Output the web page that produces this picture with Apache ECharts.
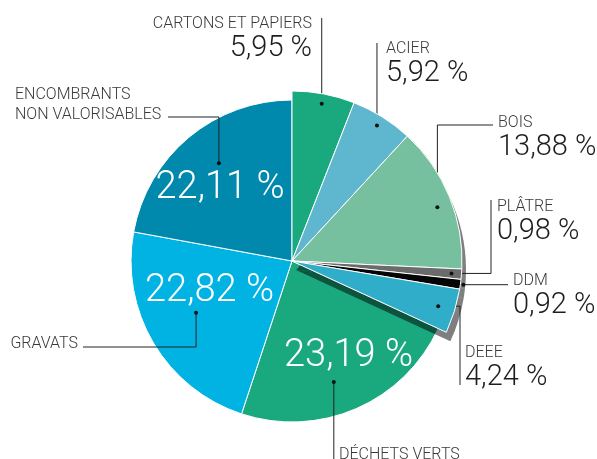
<!DOCTYPE html>
<html>
<head>
<meta charset="utf-8">
<script src="https://cdn.jsdelivr.net/npm/echarts@6/dist/echarts.min.js"></script>
<style>
    html, body { margin: 0; padding: 0; background: #fff; }
    #chart { width: 597px; height: 459px; }
</style>
</head>
<body>
<div id="chart"></div>
<script>
// répartition des déchets (% du tonnage)
var categories = ['CARTONS ET PAPIERS', 'ACIER', 'BOIS', 'PLÂTRE', 'DDM', 'DEEE',
    'DÉCHETS VERTS', 'GRAVATS', 'ENCOMBRANTS\nNON VALORISABLES'];
var shares = [5.95, 5.92, 13.88, 0.98, 0.92, 4.24, 23.19, 22.82, 22.11];

// style
var colors = ['#1aa97f', '#5fb7cf', '#76c0a0', '#6b6b6b', '#050505', '#30adc8',
    '#1aa97f', '#00b3e3', '#0089ad'];
var bigOnes = [6, 7, 8];          // grosses parts : valeur écrite dedans
var shadowed = [2, 3, 4, 5];      // parts avec ombre portée
var CX = 292, CY = 261, R_SMALL = 170, R_BIG = 161;
var FONT = 'Roboto';

// position des étiquettes : point (décalage d'angle, rayon), tracé du trait, boîte de texte
var leaders = [
    { shift: 0,   r: 160, path: 'v',  y: 18,          lx: 312, ly: 14,    align: 'right' },
    { shift: 0,   r: 160, path: 'v',  y: 43,          lx: 386, ly: 39,    align: 'left' },
    { shift: 2,   r: 155, path: 'vh', y: 125, x: 493, lx: 498, ly: 112.5, align: 'left' },
    { shift: 0,   r: 160, path: 'hv', y: 200, x: 491, lx: 497, ly: 197,   align: 'left' },
    { shift: 0,   r: 173, path: 'h',          x: 508, lx: 513, ly: 270.5, align: 'left' },
    { shift: 0,   r: 153, path: 'hv', y: 385, x: 460, lx: 465, ly: 343,   align: 'left' },
    { shift: 4.4, r: 128, path: 'v',  y: 470,         lx: 339, ly: 444.5, align: 'left' },
    { shift: 2.3, r: 109, path: 'vh', y: 347, x: 83,  lx: 78,  ly: 334,   align: 'right' },
    { shift: 3,   r: 122, path: 'vh', y: 117, x: 168, lx: 15,  ly: 84.5,  align: 'left' }
];
var insidePos = { 6: [348.5, 356], 7: [209.5, 291], 8: [220, 188.5] };

function fmt(v) {
    return v.toFixed(2).replace('.', ',') + ' %';
}

var total = shares.reduce(function (a, b) { return a + b; }, 0);

function anchor(i) {
    var before = 0;
    for (var k = 0; k < i; k++) before += shares[k];
    var a = ((before + shares[i] / 2) / total * 360 + leaders[i].shift) * Math.PI / 180;
    return [CX + leaders[i].r * Math.sin(a), CY - leaders[i].r * Math.cos(a)];
}

function linePoints(i) {
    var L = leaders[i], p = anchor(i);
    if (L.path === 'v') return [p, [p[0], L.y], [p[0], L.y]];
    if (L.path === 'h') return [p, [L.x, p[1]], [L.x, p[1]]];
    if (L.path === 'vh') return [p, [p[0], L.y], [L.x, L.y]];
    return [p, [L.x, p[1]], [L.x, L.y]];
}

var hidden = { color: 'transparent', borderWidth: 0 };
var outerData = [], innerData = [], shadowData = [];
categories.forEach(function (name, i) {
    var big = bigOnes.indexOf(i) >= 0;
    var filled = { color: colors[i], borderColor: '#fff', borderWidth: 1 };
    outerData.push({ name: name, value: shares[i], itemStyle: big ? hidden : filled });
    innerData.push({
        name: name,
        value: shares[i],
        itemStyle: big ? filled : hidden,
        label: { show: big }
    });
    shadowData.push({
        name: name,
        value: shares[i],
        itemStyle: shadowed.indexOf(i) >= 0 ? {
            color: colors[i],
            borderWidth: 0,
            shadowColor: 'rgba(0,0,0,0.5)',
            shadowOffsetX: 4,
            shadowOffsetY: 9,
            shadowBlur: 0
        } : hidden
    });
});

var dots = categories.map(function (c, i) {
    var p = anchor(i);
    return {
        type: 'circle',
        z: 100,
        silent: true,
        shape: { cx: p[0], cy: p[1], r: 2 },
        style: { fill: '#111' }
    };
});

var option = {
    backgroundColor: '#fff',
    animation: false,
    graphic: dots,
    series: [{
        type: 'pie',
        z: 1,
        silent: true,
        center: [CX, CY],
        radius: R_BIG,
        startAngle: 90,
        avoidLabelOverlap: false,
        data: innerData,
        label: {
            position: 'inside',
            formatter: function (p) { return fmt(p.value); },
            color: '#fff',
            fontFamily: FONT,
            fontWeight: 300,
            fontSize: 38
        },
        labelLine: { show: false },
        labelLayout: function (p) {
            var pos = insidePos[p.dataIndex];
            if (!pos) return {};
            return { x: pos[0], y: pos[1], align: 'center', verticalAlign: 'middle' };
        },
        emphasis: { disabled: true }
    }, {
        // ombre portée des petites parts
        type: 'pie',
        z: 2,
        silent: true,
        center: [CX, CY],
        radius: R_SMALL,
        startAngle: 90,
        data: shadowData,
        label: { show: false },
        labelLine: { show: false },
        emphasis: { disabled: true }
    }, {
        type: 'pie',
        z: 3,
        silent: true,
        center: [CX, CY],
        radius: R_SMALL,
        startAngle: 90,
        avoidLabelOverlap: false,
        data: outerData,
        label: {
            position: 'outside',
            width: 220,
            formatter: function (p) {
                var lines = p.name.split('\n').map(function (s) { return '{n|' + s + '}'; });
                if (bigOnes.indexOf(p.dataIndex) < 0) lines.push('{v|' + fmt(p.value) + '}');
                return lines.join('\n');
            },
            rich: {
                n: { fontFamily: FONT, fontWeight: 300, fontSize: 16, lineHeight: 20, color: '#3a3a3a' },
                v: { fontFamily: FONT, fontWeight: 300, fontSize: 29, lineHeight: 30, color: '#1e1e1e' }
            }
        },
        labelLine: {
            show: true,
            lineStyle: { color: '#222', width: 1 }
        },
        labelLayout: function (p) {
            var L = leaders[p.dataIndex];
            return {
                x: L.lx,
                y: L.ly,
                align: L.align,
                verticalAlign: 'top',
                labelLinePoints: linePoints(p.dataIndex)
            };
        },
        emphasis: { disabled: true }
    }]
};

var chart = echarts.init(document.getElementById('chart'));
chart.setOption(option);
</script>
</body>
</html>
